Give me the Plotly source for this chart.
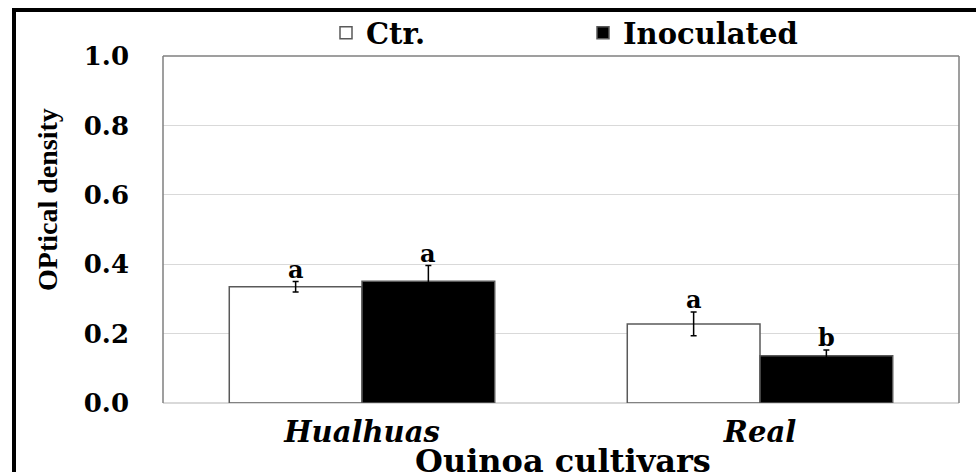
import plotly.graph_objects as go

# ---- data ----
cultivars = ["Hualhuas", "Real"]
ctr = [0.335, 0.228]
ctr_err = [0.015, 0.034]
inoc = [0.351, 0.136]
inoc_err = [0.045, 0.017]
ctr_letters = ["a", "a"]
inoc_letters = ["a", "b"]
ytick_vals = [0.0, 0.2, 0.4, 0.6, 0.8, 1.0]
ytick_text = ["0.0", "0.2", "0.4", "0.6", "0.8", "1.0"]
y_title = "OPtical density"
x_title = "Quinoa cultivars"

W, H = 976, 472
L, R, T, B = 163, 17, 56, 69
pw, ph = W - L - R, H - T - B

fig = go.Figure()
fig.add_trace(go.Bar(
    x=cultivars, y=ctr, name="Ctr.",
    marker=dict(color="white", line=dict(color="#595959", width=1.5)),
    error_y=dict(type="data", array=ctr_err, color="black", thickness=1.5, width=3),
))
fig.add_trace(go.Bar(
    x=cultivars, y=inoc, name="Inoculated",
    marker=dict(color="black", line=dict(color="#595959", width=1.5)),
    error_y=dict(type="data", array=inoc_err, color="black", thickness=1.5, width=3),
))

bar_px = pw / len(cultivars) * (1 - 0.333) / 2
letter_font = dict(family="DejaVu Serif", size=24, color="black", weight="bold")
for i, c in enumerate(cultivars):
    fig.add_annotation(x=c, y=ctr[i] + ctr_err[i], text=ctr_letters[i], showarrow=False,
                       xshift=-bar_px / 2, yanchor="bottom", yshift=-4, font=letter_font)
    fig.add_annotation(x=c, y=inoc[i] + inoc_err[i], text=inoc_letters[i], showarrow=False,
                       xshift=bar_px / 2, yanchor="bottom", yshift=-4, font=letter_font)

# axis titles (placed like the reference)
fig.add_annotation(xref="paper", yref="paper", x=(48 - L) / pw, y=(H - B - 200) / ph,
                   text=y_title, textangle=-90, showarrow=False,
                   xanchor="center", yanchor="middle",
                   font=dict(family="Liberation Serif", size=28, color="black", weight="bold"))
fig.add_annotation(xref="paper", yref="paper", x=(563 - L) / pw, y=(H - B - 461) / ph,
                   text=x_title, showarrow=False, xanchor="center", yanchor="middle",
                   font=dict(family="DejaVu Serif", size=32, color="black", weight="bold"))

# plot-area border (top, left, right) and outer frame
border = dict(color="#7f7f7f", width=1.5)
fig.add_shape(type="line", xref="paper", yref="paper", x0=0, x1=1, y0=1, y1=1, line=border)
fig.add_shape(type="line", xref="paper", yref="paper", x0=0, x1=0, y0=0, y1=1, line=border)
fig.add_shape(type="line", xref="paper", yref="paper", x0=1, x1=1, y0=0, y1=1, line=border)
fig.add_shape(type="rect", xref="paper", yref="paper",
              x0=(14 - L) / pw, x1=1.2, y0=-0.4, y1=(H - B - 10) / ph,
              line=dict(color="black", width=4))

fig.update_layout(
    width=W, height=H,
    margin=dict(l=L, r=R, t=T, b=B, autoexpand=False),
    paper_bgcolor="white", plot_bgcolor="white",
    barmode="group", bargap=0.333, bargroupgap=0,
    showlegend=True,
    legend=dict(orientation="h", x=(326 - L) / pw, xanchor="left",
                y=(H - B - 33) / ph, yanchor="middle",
                font=dict(family="DejaVu Serif", size=29, color="black", weight="bold"),
                entrywidth=212, entrywidthmode="pixels",
                bgcolor="rgba(0,0,0,0)"),
    xaxis=dict(
        showgrid=False, showline=False, ticks="",
        tickfont=dict(family="DejaVu Serif", size=29, color="black", weight="bold", style="italic"),
        ticklabelstandoff=9,
        automargin=False,
    ),
    yaxis=dict(
        range=[0, 1.0], tickvals=ytick_vals, ticktext=ytick_text,
        showgrid=True, gridcolor="#d9d9d9", gridwidth=1,
        zeroline=True, zerolinecolor="#d9d9d9", zerolinewidth=1.5,
        showline=False, ticks="",
        tickfont=dict(family="DejaVu Serif", size=26, color="black", weight="bold"),
        ticklabelstandoff=33,
        automargin=False,
    ),
)

fig.write_html("out.html", config={"displayModeBar": False},
               post_script="document.body.style.margin='0';")
